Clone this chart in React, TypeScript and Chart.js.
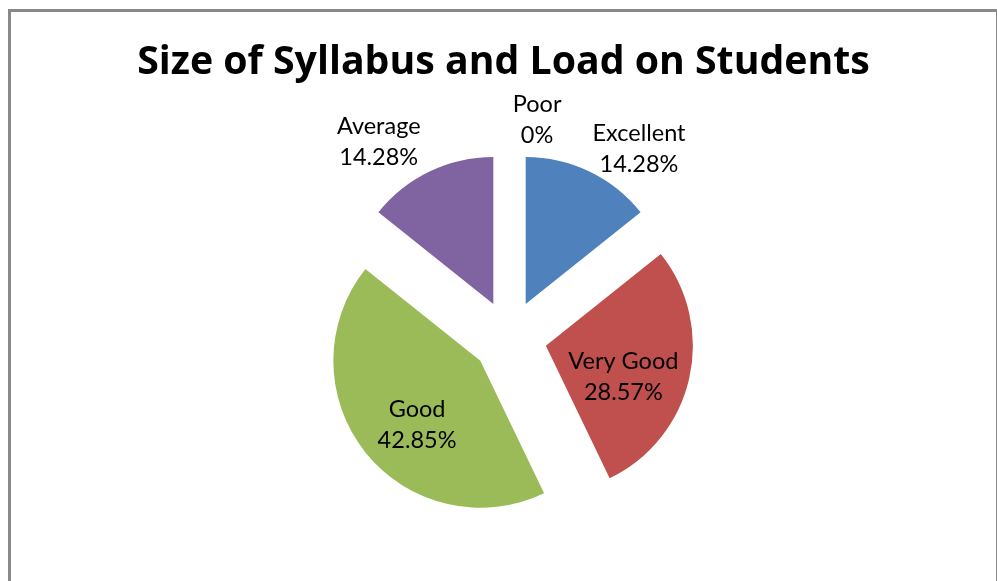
import React, { useEffect, useRef } from "react";
import { Chart, registerables } from "chart.js";

Chart.register(...registerables);

const categories = ["Excellent", "Very Good", "Good", "Average", "Poor"];
const percentages = [14.28, 28.57, 42.85, 14.28, 0];
const sliceColors = ["#4F81BD", "#C0504D", "#9BBB59", "#8064A2", "#F79646"];
const titleText = "Size of Syllabus and Load on Students";

// label placement: radial distance (fraction of radius) and angular nudge (degrees)
const labelRadius = [1.559, 0.818, 0.862, 1.607, 1.498];
const labelAngleShift = [8.7, 5.9, -4.6, -7.9, 7.2];

const W = 997;
const H = 581;
const PIE_RADIUS = 147;
const EXPLODE = 37.3;
const FRAME = { left: 9.5, top: 10.5, width: 988, height: 1000 };
const TITLE_FAMILY = "'Open Sans'";
const TITLE_WIDTH = 733;
const TITLE_BASELINE = 74.3;
const LABEL_FONT_SIZE = 23.5;
const LABEL_LINE = 31;

const centerOf = (chart: any) => {
  const a = chart.chartArea;
  return { cx: (a.left + a.right) / 2, cy: (a.top + a.bottom) / 2 };
};

const framePlugin = {
  id: "frameAndTitle",
  beforeDraw(chart: any) {
    const ctx = chart.ctx;
    ctx.save();
    ctx.fillStyle = "#ffffff";
    ctx.fillRect(0, 0, chart.width, chart.height);
    ctx.strokeStyle = "#898989";
    ctx.lineWidth = 3;
    ctx.strokeRect(FRAME.left, FRAME.top, FRAME.width, FRAME.height);
    ctx.fillStyle = "#000000";
    ctx.font = `bold 40px ${TITLE_FAMILY}`;
    const measured = ctx.measureText(titleText).width || TITLE_WIDTH;
    const size = (40 * TITLE_WIDTH) / measured;
    ctx.font = `bold ${size}px ${TITLE_FAMILY}`;
    ctx.textAlign = "center";
    ctx.textBaseline = "alphabetic";
    ctx.fillText(titleText, FRAME.left + FRAME.width / 2, TITLE_BASELINE);
    ctx.restore();
  },
};

const explodePlugin = {
  id: "explode",
  beforeDatasetsDraw(chart: any) {
    const { cx, cy } = centerOf(chart);
    chart.getDatasetMeta(0).data.forEach((arc: any) => {
      const mid = (arc.startAngle + arc.endAngle) / 2;
      arc.x = cx + Math.cos(mid) * EXPLODE;
      arc.y = cy + Math.sin(mid) * EXPLODE;
    });
  },
};

const labelPlugin = {
  id: "sliceLabels",
  afterDatasetsDraw(chart: any) {
    const ctx = chart.ctx;
    const { cx, cy } = centerOf(chart);
    const meta = chart.getDatasetMeta(0);
    ctx.save();
    ctx.fillStyle = "#000000";
    ctx.font = `${LABEL_FONT_SIZE}px Lato`;
    ctx.textAlign = "center";
    ctx.textBaseline = "alphabetic";
    const capHalf = (LABEL_FONT_SIZE * 0.7165) / 2;
    meta.data.forEach((arc: any, i: number) => {
      const mid = (arc.startAngle + arc.endAngle) / 2 + (labelAngleShift[i] * Math.PI) / 180;
      const r = arc.outerRadius * labelRadius[i];
      const x = cx + Math.cos(mid) * r;
      const y = cy + Math.sin(mid) * r;
      ctx.fillText(categories[i], x, y - LABEL_LINE / 2 + capHalf);
      ctx.fillText(`${percentages[i]}%`, x, y + LABEL_LINE / 2 + capHalf);
    });
    ctx.restore();
  },
};

export default function App() {
  const ref = useRef<HTMLCanvasElement | null>(null);

  useEffect(() => {
    if (!ref.current) return;
    const chart = new Chart(ref.current, {
      type: "pie",
      data: {
        labels: categories,
        datasets: [
          {
            data: percentages,
            backgroundColor: sliceColors,
            borderWidth: 0,
            radius: PIE_RADIUS,
          } as any,
        ],
      },
      options: {
        responsive: false,
        animation: false,
        devicePixelRatio: 1,
        events: [],
        radius: PIE_RADIUS,
        layout: { padding: { left: 22, right: 0, top: 94, bottom: 0 } },
        plugins: {
          legend: { display: false },
          tooltip: { enabled: false },
          title: { display: false },
        },
      } as any,
      plugins: [framePlugin, explodePlugin, labelPlugin],
    });
    let alive = true;
    const fonts = (document as any).fonts;
    if (fonts && fonts.load) {
      Promise.all([
        fonts.load(`bold 40px ${TITLE_FAMILY}`),
        fonts.load(`${LABEL_FONT_SIZE}px Lato`),
      ]).then(() => {
        if (alive) chart.draw();
      });
    }
    return () => {
      alive = false;
      chart.destroy();
    };
  }, []);

  return (
    <div style={{ position: "fixed", left: 0, top: 0, width: W, height: H, background: "#fff" }}>
      <canvas ref={ref} width={W} height={H} style={{ width: W, height: H, display: "block" }} />
    </div>
  );
}
